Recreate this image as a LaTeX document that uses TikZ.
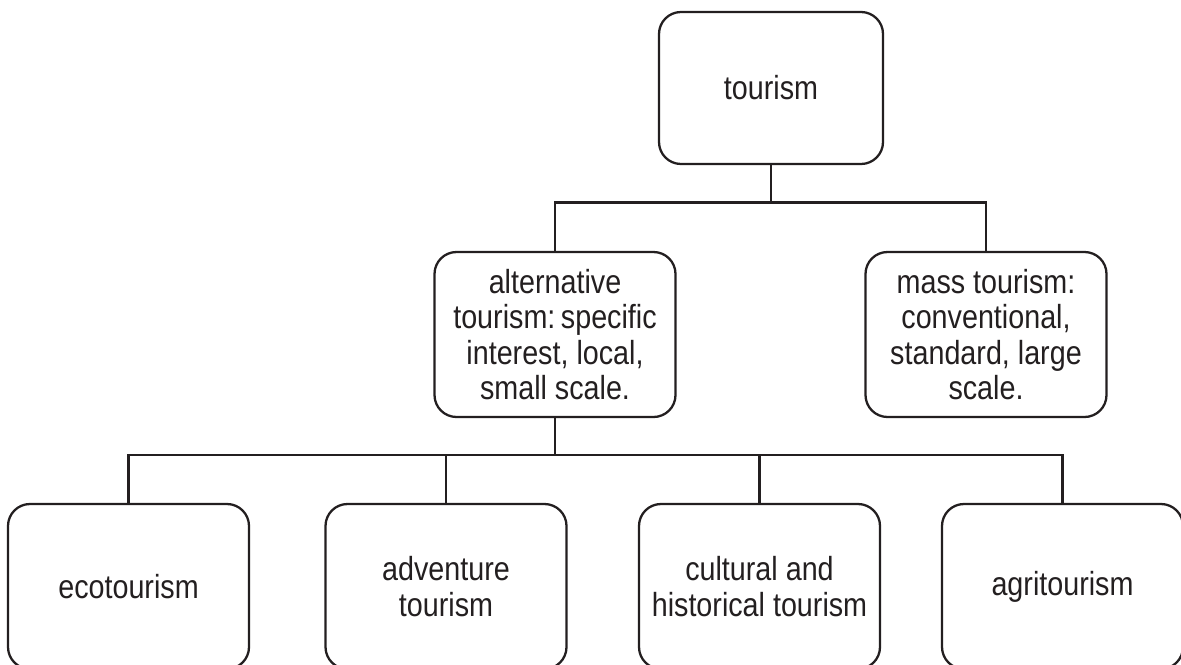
\documentclass[tikz,border=0pt]{standalone}
\usepackage{fontspec}
\setmainfont[FakeStretch=0.86]{Liberation Sans}
\usepackage{tikz}
\usetikzlibrary{positioning}

\definecolor{ink}{HTML}{231F20}

\begin{document}
\begin{tikzpicture}[semithick, draw=ink, line width=1.3pt, topic/.style={draw=ink, rounded corners=0.44cm, align=center, text=ink, font=\fontsize{19}{20}\selectfont, minimum width=4.82cm, minimum height=3.3cm, inner sep=2pt}]
		\useasboundingbox (0, 0) rectangle (23.62, -13.28);

		\node[topic, minimum width=4.48cm, minimum height=3.04cm]	(tourism) at (15.42, -1.76) {tourism};
		\node[topic]	(alt) at (11.1, -6.69) {alternative\\tourism:\,specific\\interest, local,\\small scale.};
		\node[topic]	(mass) at (19.72, -6.69) {mass tourism:\\conventional,\\standard, large\\scale.};
		\node[topic]	(eco) at (2.57, -11.73) {ecotourism};
		\node[topic]	(adv) at (8.92, -11.73) {adventure\\tourism};
		\node[topic]	(cult) at (15.19, -11.73) {cultural and\\historical tourism};
		\node[topic]	(agri) at (21.25, -11.73) {agritourism};

		\coordinate	(top split) at (15.42, -4.05);
		\coordinate	(alt split) at (11.1, -9.1);

		\draw[ink] (tourism) -- (top split);
		\draw[ink] (top split) -| (alt);
		\draw[ink] (top split) -| (mass);
		\draw[ink] (alt) -- (alt split);
		\draw[ink] (alt split) -| (eco);
		\draw[ink] (alt split) -| (adv);
		\draw[ink] (alt split) -| (cult);
		\draw[ink] (alt split) -| (agri);
	\end{tikzpicture}
\end{document}
